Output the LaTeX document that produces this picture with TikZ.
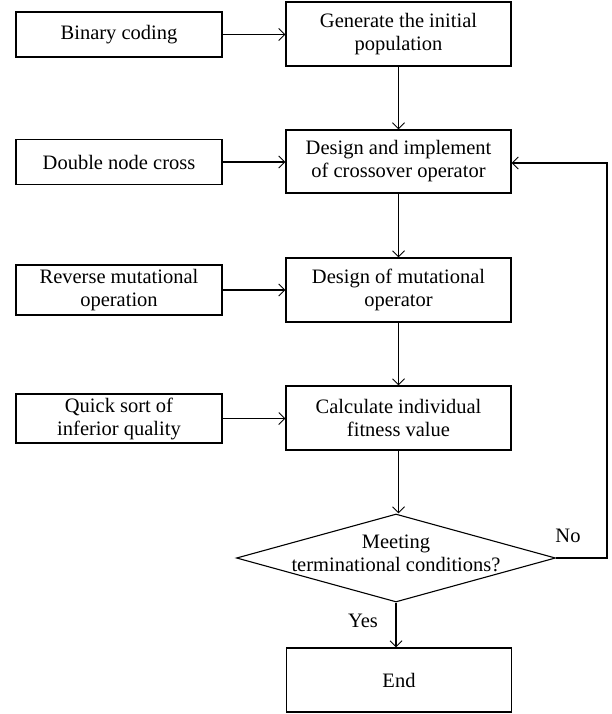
\documentclass[tikz,border=0pt]{standalone}
\usepackage{fontspec}
\setmainfont{Liberation Serif}
\usetikzlibrary{arrows.meta,shapes.geometric}
\begin{document}
\begin{tikzpicture}[x=1pt,y=-1pt,
  txt/.style={font=\rmfamily\fontsize{20.5}{23}\selectfont},
  box/.style={txt,draw,line width=1.1pt,minimum width=206pt,minimum height=45pt,align=center,inner sep=0pt},
  mainbox/.style={txt,draw,line width=1.1pt,minimum width=225pt,minimum height=64pt,align=center,inner sep=0pt},
  arr/.style={line width=1.1pt,-{Straight Barb[length=6pt,width=12pt,line width=1pt]}}]
\useasboundingbox (0,0) rectangle (612,714);
\node[mainbox] (gen) at (398.5,34) {Generate the initial\\population};
\node[mainbox,minimum height=63pt] (cross) at (398.5,161.5) {Design and implement\\of crossover operator};
\node[mainbox] (mut) at (398.5,290) {Design of mutational\\operator};
\node[mainbox] (calc) at (398.5,418) {Calculate individual\\fitness value};
\node[draw,line width=1.1pt,diamond,aspect=3.6,inner sep=0pt,minimum width=319pt,minimum height=88pt] (cond) at (396,558) {};
\node[txt,align=center,inner sep=0pt] (condtxt) at (396,553) {Meeting\\terminational conditions?};
\node[mainbox] (end) at (399,680) {End};
\node[box] (bin) at (119,34.5) {Binary coding};
\node[box] (dbl) at (119,162) {Double node cross};
\node[box,minimum height=50pt] (rev) at (119,290) {Reverse mutational\\operation};
\node[box,minimum height=49pt] (quick) at (119,418.5) {Quick sort of\\inferior quality};
\draw[arr] (bin.east) -- (bin.east -| gen.west);
\draw[arr] (dbl.east) -- (dbl.east -| cross.west);
\draw[arr] (rev.east) -- (rev.east -| mut.west);
\draw[arr] (quick.east) -- (quick.east -| calc.west);
\draw[arr] (gen.south) -- (cross.north);
\draw[arr] (cross.south) -- (mut.north);
\draw[arr] (mut.south) -- (calc.north);
\draw[arr] (calc.south) -- (calc.south |- cond.north);
\draw[arr] (cond.south) -- (cond.south |- end.north);
\coordinate (c1) at (607,558);
\coordinate (c2) at (607,163);
\draw[arr] (cond.east) -- (c1) -- (c2) -- (c2 -| cross.east);
\node[txt] (no) at (568,536) {No};
\node[txt] (yes) at (363,621) {Yes};
\end{tikzpicture}
\end{document}
